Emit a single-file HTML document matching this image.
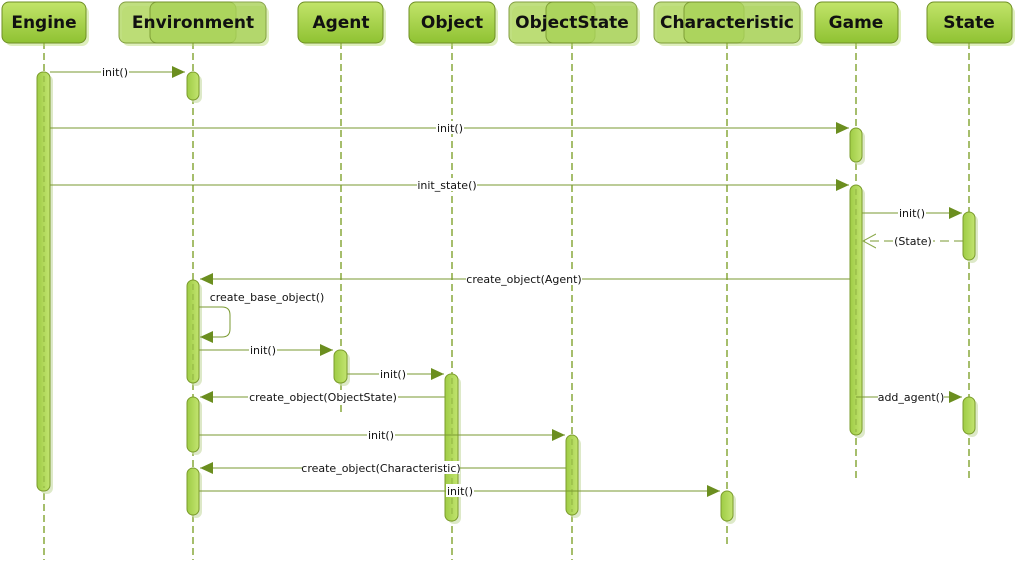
<!DOCTYPE html>
<html><head><meta charset="utf-8"><style>body{margin:0;background:#fff}svg{display:block}</style></head><body>
<svg width="1020" height="569" xmlns="http://www.w3.org/2000/svg" font-family="'DejaVu Sans','Liberation Sans',sans-serif">
<defs>
<linearGradient id="g" x1="0" y1="0" x2="0" y2="1"><stop offset="0" stop-color="#c2e46a"/><stop offset="1" stop-color="#8fc232"/></linearGradient>
<linearGradient id="a" x1="0" y1="0" x2="1" y2="0"><stop offset="0" stop-color="#9fcc45"/><stop offset="1" stop-color="#c2e470"/></linearGradient>
<marker id="f" markerWidth="14" markerHeight="12" refX="13" refY="6" orient="auto" markerUnits="userSpaceOnUse"><path d="M0,0L13,6L0,12z" fill="#6b8e1f"/></marker>
<marker id="o" markerWidth="14" markerHeight="16" refX="13" refY="8" orient="auto" markerUnits="userSpaceOnUse"><path d="M0,1L13,8L0,15" fill="none" stroke="#8aa84a"/></marker>
</defs>
<g stroke="#88a83c" stroke-width="1.5" stroke-dasharray="7,4" fill="none">
<line x1="44" y1="42" x2="44" y2="560"/><line x1="193" y1="42" x2="193" y2="560"/>
<line x1="341" y1="42" x2="341" y2="412"/><line x1="452" y1="42" x2="452" y2="560"/>
<line x1="572" y1="42" x2="572" y2="560"/><line x1="727" y1="42" x2="727" y2="545"/>
<line x1="856" y1="42" x2="856" y2="482"/><line x1="969" y1="42" x2="969" y2="482"/>
</g>
<g stroke="#6f8f25" stroke-width="1">
<g opacity="0.45" fill="#b9dc70" stroke="none">
<rect x="122" y="6" width="117" height="40" rx="7"/><rect x="153" y="6" width="116" height="40" rx="7"/>
<rect x="512" y="6" width="86" height="40" rx="7"/><rect x="549" y="6" width="91" height="40" rx="7"/>
<rect x="657" y="6" width="90" height="40" rx="7"/><rect x="687" y="6" width="116" height="40" rx="7"/>
<rect x="5" y="6" width="84" height="40" rx="7"/><rect x="301" y="6" width="85" height="40" rx="7"/><rect x="412" y="6" width="86" height="40" rx="7"/><rect x="818" y="6" width="83" height="40" rx="7"/><rect x="930" y="6" width="85" height="40" rx="7"/>
</g>
<rect x="2" y="2" width="84" height="41" rx="7" fill="url(#g)"/>
<rect x="119" y="2" width="117" height="41" rx="7" fill="#b6da6a" opacity="0.85"/>
<rect x="150" y="2" width="116" height="41" rx="7" fill="#a9d258" opacity="0.8"/>
<rect x="298" y="2" width="85" height="41" rx="7" fill="url(#g)"/>
<rect x="409" y="2" width="86" height="41" rx="7" fill="url(#g)"/>
<rect x="509" y="2" width="86" height="41" rx="7" fill="#b6da6a" opacity="0.85"/>
<rect x="546" y="2" width="91" height="41" rx="7" fill="#a9d258" opacity="0.8"/>
<rect x="654" y="2" width="90" height="41" rx="7" fill="#b6da6a" opacity="0.85"/>
<rect x="684" y="2" width="116" height="41" rx="7" fill="#a9d258" opacity="0.8"/>
<rect x="815" y="2" width="83" height="41" rx="7" fill="url(#g)"/>
<rect x="927" y="2" width="85" height="41" rx="7" fill="url(#g)"/>
</g>
<g font-weight="bold" font-size="17" text-anchor="middle" fill="#111">
<text x="44" y="28">Engine</text><text x="193" y="28">Environment</text><text x="341" y="28">Agent</text><text x="452" y="28">Object</text><text x="572" y="28">ObjectState</text><text x="727" y="28">Characteristic</text><text x="856" y="28">Game</text><text x="969" y="28">State</text>
</g>
<g fill="#cfdfb0" opacity="0.7">
<rect x="40" y="75" width="13" height="419" rx="6"/>
<rect x="190" y="75" width="12" height="28" rx="6"/><rect x="190" y="283" width="12" height="103" rx="6"/><rect x="190" y="400" width="12" height="55" rx="6"/><rect x="190" y="471" width="12" height="47" rx="6"/>
<rect x="337" y="353" width="13" height="33" rx="6"/><rect x="448" y="377" width="13" height="147" rx="6"/><rect x="569" y="438" width="12" height="80" rx="6"/><rect x="724" y="494" width="12" height="30" rx="6"/>
<rect x="853" y="131" width="12" height="34" rx="6"/><rect x="853" y="188" width="12" height="250" rx="6"/><rect x="966" y="215" width="12" height="48" rx="6"/><rect x="966" y="400" width="12" height="37" rx="6"/>
</g>
<g fill="url(#a)" stroke="#7b9c2c" stroke-width="1">
<rect x="37" y="72" width="13" height="419" rx="6"/>
<rect x="187" y="72" width="12" height="28" rx="6"/><rect x="187" y="280" width="12" height="103" rx="6"/><rect x="187" y="397" width="12" height="55" rx="6"/><rect x="187" y="468" width="12" height="47" rx="6"/>
<rect x="334" y="350" width="13" height="33" rx="6"/>
<rect x="445" y="374" width="13" height="147" rx="6"/>
<rect x="566" y="435" width="12" height="80" rx="6"/>
<rect x="721" y="491" width="12" height="30" rx="6"/>
<rect x="850" y="128" width="12" height="34" rx="6"/><rect x="850" y="185" width="12" height="250" rx="6"/>
<rect x="963" y="212" width="12" height="48" rx="6"/><rect x="963" y="397" width="12" height="37" rx="6"/>
</g>
<g stroke="#7a9a30" stroke-width="1" stroke-dasharray="6,4" opacity="0.6">
<line x1="44" y1="76" x2="44" y2="488"/><line x1="193" y1="284" x2="193" y2="380"/><line x1="452" y1="378" x2="452" y2="518"/><line x1="572" y1="439" x2="572" y2="512"/><line x1="856" y1="189" x2="856" y2="432"/>
</g>
<g stroke="#7a9a30" stroke-width="1" fill="none" marker-end="url(#f)">
<line x1="50" y1="72" x2="185" y2="72"/>
<line x1="50" y1="128" x2="849" y2="128"/>
<line x1="50" y1="185" x2="849" y2="185"/>
<line x1="862" y1="213" x2="962" y2="213"/>
<line x1="850" y1="279" x2="200" y2="279"/>
<path d="M199,307 H222 Q230,307 230,315 V329 Q230,337 222,337 H200"/>
<line x1="199" y1="350" x2="333" y2="350"/>
<line x1="347" y1="374" x2="444" y2="374"/>
<line x1="445" y1="397" x2="200" y2="397"/>
<line x1="856" y1="397" x2="962" y2="397"/>
<line x1="199" y1="435" x2="565" y2="435"/>
<line x1="566" y1="468" x2="200" y2="468"/>
<line x1="199" y1="491" x2="720" y2="491"/>
</g>
<line x1="963" y1="241" x2="863" y2="241" stroke="#7a9a30" stroke-dasharray="9,5" marker-end="url(#o)"/>
<g font-size="11" text-anchor="middle" fill="#111">
<g fill="#fff" stroke="none">
<rect x="101" y="65" width="28" height="13"/><rect x="436" y="121" width="28" height="13"/><rect x="417" y="178" width="60" height="13"/><rect x="898" y="206" width="28" height="13"/><rect x="893" y="234" width="40" height="13"/><rect x="466" y="272" width="116" height="13"/><rect x="249" y="343" width="28" height="13"/><rect x="379" y="367" width="28" height="13"/><rect x="248" y="390" width="150" height="13"/><rect x="878" y="390" width="66" height="13"/><rect x="367" y="428" width="28" height="13"/><rect x="302" y="461" width="158" height="13"/><rect x="446" y="484" width="28" height="13"/>
</g>
<text x="115" y="76">init()</text><text x="450" y="132">init()</text><text x="447" y="189">init_state()</text><text x="912" y="217">init()</text><text x="913" y="245">(State)</text><text x="524" y="283">create_object(Agent)</text><text x="267" y="301">create_base_object()</text><text x="263" y="354">init()</text><text x="393" y="378">init()</text><text x="323" y="401">create_object(ObjectState)</text><text x="911" y="401">add_agent()</text><text x="381" y="439">init()</text><text x="381" y="472">create_object(Characteristic)</text><text x="460" y="495">init()</text>
</g>
</svg>
</body></html>
